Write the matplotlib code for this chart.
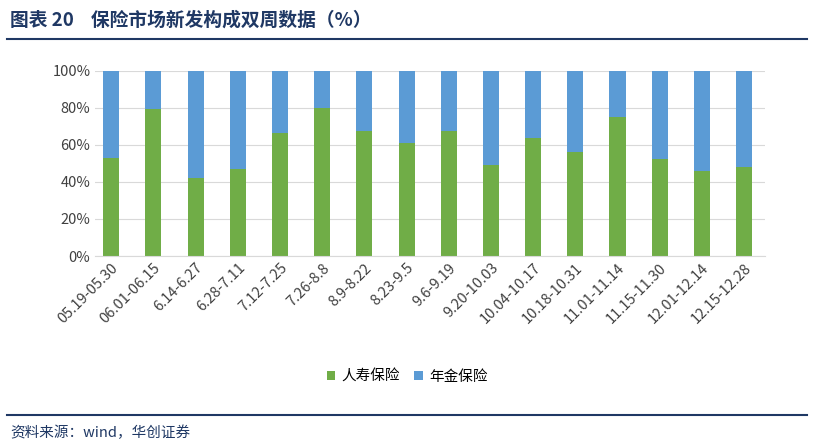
import matplotlib
matplotlib.use("Agg")
import matplotlib.pyplot as plt
from matplotlib.lines import Line2D

plt.rcParams['font.family'] = ['Noto Sans CJK SC', 'DejaVu Sans']

categories = ["05.19-05.30", "06.01-06.15", "6.14-6.27", "6.28-7.11", "7.12-7.25", "7.26-8.8",
              "8.9-8.22", "8.23-9.5", "9.6-9.19", "9.20-10.03", "10.04-10.17", "10.18-10.31",
              "11.01-11.14", "11.15-11.30", "12.01-12.14", "12.15-12.28"]
life = [53, 79.5, 42, 47, 66.5, 80, 67.5, 61, 67.5, 49, 64, 56, 75, 52.5, 46, 48]
annuity = [100 - v for v in life]

fig = plt.figure(figsize=(8.14, 4.46), dpi=100)
ax = fig.add_axes([0.117, 0.426, 0.823, 0.415])
x = range(len(categories))
ax.bar(x, life, width=0.38, color="#70AD47", label="人寿保险")
ax.bar(x, annuity, bottom=life, width=0.38, color="#5B9BD5", label="年金保险")
ax.set_ylim(0, 100)
ax.set_xlim(-0.38, len(categories) - 0.5)
ax.set_yticks(range(0, 101, 20))
ax.set_yticklabels([f"{v}%" for v in range(0, 101, 20)], fontsize=10.5, color="#404040")
ax.set_xticks(list(x))
ax.set_xticklabels(categories, rotation=45, ha="right", rotation_mode="anchor", fontsize=10.5, color="#404040")
ax.grid(axis="y", color="#D9D9D9", linewidth=0.8)
ax.set_axisbelow(True)
for s in ["top", "right", "left"]:
    ax.spines[s].set_visible(False)
ax.spines["bottom"].set_color("#D9D9D9")
ax.tick_params(length=0)

fig.legend(loc="center", bbox_to_anchor=(0.5, 0.155), ncol=2, frameon=False, fontsize=10.5,
           handlelength=0.6, handleheight=0.6, columnspacing=1.0, handletextpad=0.4)

fig.text(0.012, 0.955, "图表 20    保险市场新发构成双周数据（%）", fontsize=13.5, fontweight="bold",
         color="#1F3864", va="center")
fig.add_artist(Line2D([0.008, 0.992], [0.913, 0.913], color="#1F3864", linewidth=1.5))
fig.add_artist(Line2D([0.008, 0.992], [0.07, 0.07], color="#1F3864", linewidth=1.5))
fig.text(0.012, 0.03, "资料来源：wind，华创证券", fontsize=10.5, color="#1F3864", style="italic", va="center")

fig.savefig("out.png", dpi=100)
